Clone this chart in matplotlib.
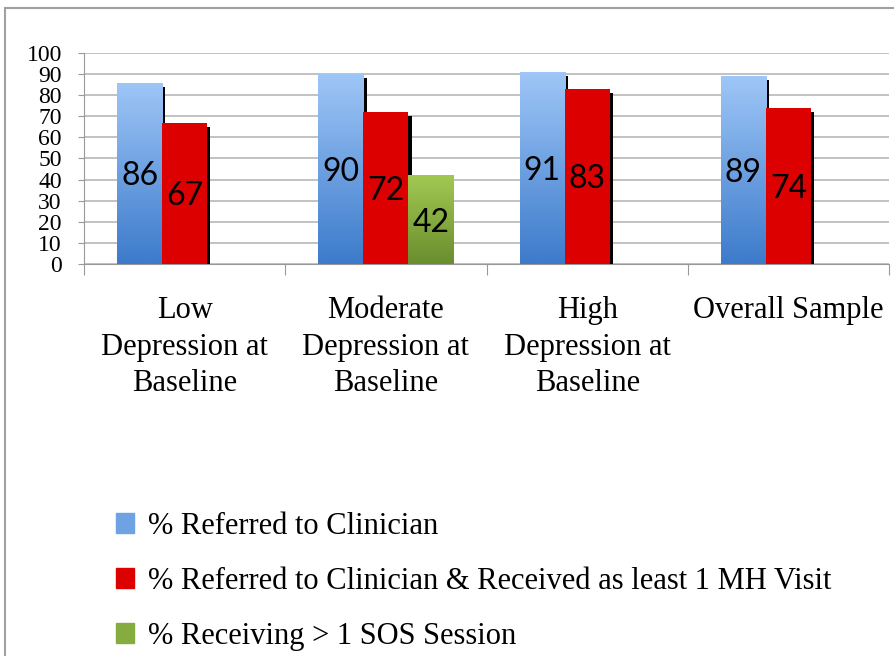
import matplotlib
matplotlib.use("Agg")
import matplotlib.pyplot as plt
import matplotlib.patches as patches
import numpy as np

# data
categories = ["Low\nDepression at\nBaseline", "Moderate\nDepression at\nBaseline",
              "High\nDepression at\nBaseline", "Overall Sample"]
referred = [86, 90, 91, 89]
received = [67, 72, 83, 74]
sos = [None, 42, None, None]
series_names = ["% Referred to Clinician",
                "% Referred to Clinician & Received as least 1 MH Visit",
                "% Receiving > 1 SOS Session"]

serif = ["Liberation Serif", "DejaVu Serif"]
sans = ["Lato", "DejaVu Sans"]

fig = plt.figure(figsize=(8.94, 6.56), dpi=100)
ax = fig.add_axes([0.094, 0.5976, 0.9004, 0.3216])

w = 0.224
x = np.arange(len(categories)) + 0.5

def gradient_bar(bar, top_col, bot_col):
    grad = np.linspace(0, 1, 100).reshape(-1, 1)
    cmap = matplotlib.colors.LinearSegmentedColormap.from_list("g", [bot_col, top_col])
    x0, y0 = bar.get_x(), bar.get_y()
    im = ax.imshow(grad, cmap=cmap, aspect="auto", origin="lower",
                   extent=[x0, x0 + bar.get_width(), y0, y0 + bar.get_height()],
                   zorder=bar.get_zorder())
    im.set_clip_path(bar)

shadow_w = 0.016
# blue bars
xb = x - w
ax.bar(xb + w / 2 + shadow_w / 2, [v - 2 for v in referred], shadow_w, color="black", zorder=2)
blue = ax.bar(xb, referred, w, color="none", zorder=3)
for b in blue:
    gradient_bar(b, "#9ec6f7", "#3d7bcb")
# red bars
ax.bar(x + w / 2 + shadow_w / 2, [v - 2 for v in received], shadow_w, color="black", zorder=4)
red = ax.bar(x, received, w, color="#dd0000", zorder=5)
# green bars
gi = [i for i, v in enumerate(sos) if v is not None]
gv = [sos[i] for i in gi]
green = ax.bar(x[gi] + w, gv, w, color="none", zorder=6)
for b in green:
    gradient_bar(b, "#a2c852", "#6a8e2e")

for bars, vals in [(blue, referred), (red, received), (green, gv)]:
    for b, v in zip(bars, vals):
        ax.text(b.get_x() + b.get_width() / 2, v / 2, str(v), ha="center", va="center_baseline",
                fontsize=23, family=sans, color="#000000", zorder=10)

ax.set_xlim(0, 4)
ax.set_ylim(0, 100)
ax.set_yticks(range(0, 101, 10))
ax.yaxis.grid(True, color="#bdbdbd", linewidth=1.3)
ax.set_axisbelow(True)
ax.set_xticks(range(5))
ax.set_xticklabels([])
ax.set_xticks(x, minor=True)
ax.set_xticklabels(categories, minor=True, family=serif, fontsize=22, linespacing=1.35)
ax.tick_params(axis="x", which="minor", length=0, pad=23)
ax.tick_params(axis="x", which="major", length=8, color="#999999", direction="out")
ax.tick_params(axis="y", length=4, color="#999999", labelsize=17, pad=12)
for lab in ax.get_yticklabels():
    lab.set_family(serif)
for s in ["top", "right"]:
    ax.spines[s].set_visible(False)
for s in ["left", "bottom"]:
    ax.spines[s].set_color("#999999")

handles = [patches.Patch(color="#6fa2e2"), patches.Patch(color="#dd0000"),
           patches.Patch(color="#86ac40")]
fig.legend(handles, series_names, loc="upper left", bbox_to_anchor=(0.099, 0.262),
           frameon=False, prop={"family": serif, "size": 22},
           handlelength=0.6, handleheight=0.6, handletextpad=0.45, labelspacing=0.85)

fig.patches.append(patches.Rectangle((0.0056, -0.1), 1.1, 1.088, transform=fig.transFigure,
                                     fill=False, edgecolor="#a0a0a0", linewidth=1.5))

fig.savefig("out.png", dpi=100)
